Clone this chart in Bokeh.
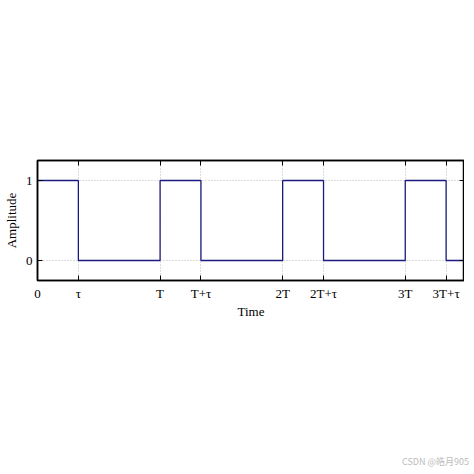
from bokeh.plotting import figure
from bokeh.models import FixedTicker, LinearAxis, Range1d, Div, Spacer
from bokeh.layouts import column
from bokeh.embed import file_html
from bokeh.resources import INLINE

# Data: square pulse train, period T = 3 units, pulse width tau = 1 unit
time_pts = [0, 1, 1, 3, 3, 4, 4, 6, 6, 7, 7, 9, 9, 10, 10, 10.5]
amp_pts = [1, 1, 0, 0, 1, 1, 0, 0, 1, 1, 0, 0, 1, 1, 0, 0]
x_ticks = [0, 1, 3, 4, 6, 7, 9, 10]
x_tick_labels = ["0", "τ", "T", "T+τ", "2T", "2T+τ", "3T", "3T+τ"]
y_ticks = [0, 1]
y_tick_labels = ["0", "1"]
watermark = "CSDN @皓月905"

FONT = "Liberation Serif"

p = figure(width=464, height=338, output_backend="svg", toolbar_location=None,
           x_range=Range1d(0, 10.45), y_range=Range1d(-0.25, 1.25),
           min_border_left=32, min_border_right=0, min_border_top=160,
           min_border_bottom=58)
p.background_fill_color = "white"
p.border_fill_color = "white"
p.outline_line_color = "black"
p.outline_line_width = 1.5

p.line(time_pts, amp_pts, line_color="#1a1a80", line_width=1.3)

for ax in (p.xaxis[0], p.yaxis[0]):
    ax.axis_line_color = "black"
    ax.axis_line_width = 1.5
    ax.major_tick_in = 5
    ax.major_tick_out = 0
    ax.minor_tick_line_color = None
    ax.major_label_text_font = FONT
    ax.major_label_text_font_size = "13px"
    ax.major_label_text_color = "black"
    ax.axis_label_text_font = FONT
    ax.axis_label_text_font_size = "13px"
    ax.axis_label_text_font_style = "normal"
    ax.axis_label_text_color = "black"

p.xaxis[0].ticker = FixedTicker(ticks=x_ticks)
p.xaxis[0].major_label_overrides = {t: l for t, l in zip(x_ticks, x_tick_labels)}
p.xaxis[0].axis_label = "Time"
p.xaxis[0].major_label_standoff = 5
p.xaxis[0].axis_label_standoff = 0

p.yaxis[0].ticker = FixedTicker(ticks=y_ticks)
p.yaxis[0].major_label_overrides = {t: l for t, l in zip(y_ticks, y_tick_labels)}
p.yaxis[0].axis_label = "Amplitude"
p.yaxis[0].major_label_standoff = 5
p.yaxis[0].axis_label_standoff = 4
p.yaxis[0].major_label_orientation = "horizontal"

# mirrored ticks on top and right
top = LinearAxis(ticker=FixedTicker(ticks=x_ticks), major_tick_in=5, major_tick_out=0,
                 minor_tick_line_color=None, major_label_text_font_size="0px",
                 major_label_standoff=0, axis_line_color="black", axis_line_width=1.5)
right = LinearAxis(ticker=FixedTicker(ticks=y_ticks), major_tick_in=5, major_tick_out=0,
                   minor_tick_line_color=None, major_label_text_font_size="0px",
                   major_label_standoff=0, axis_line_color="black", axis_line_width=1.5)
p.add_layout(top, "above")
p.add_layout(right, "right")

p.xgrid.ticker = FixedTicker(ticks=x_ticks)
p.ygrid.ticker = FixedTicker(ticks=y_ticks)
for g in (p.xgrid[0], p.ygrid[0]):
    g.grid_line_color = "#bbbbbb"
    g.grid_line_dash = "1 2"
    g.grid_line_width = 1

wm = Div(text=watermark, width=464, height=16,
         styles={"text-align": "right", "font-size": "9px", "color": "#bbbbbb",
                 "font-family": "Noto Sans CJK SC", "width": "464px"})

layout = column(p, Spacer(height=113), wm, spacing=0)

open("out.html", "w").write(file_html(layout, INLINE))
